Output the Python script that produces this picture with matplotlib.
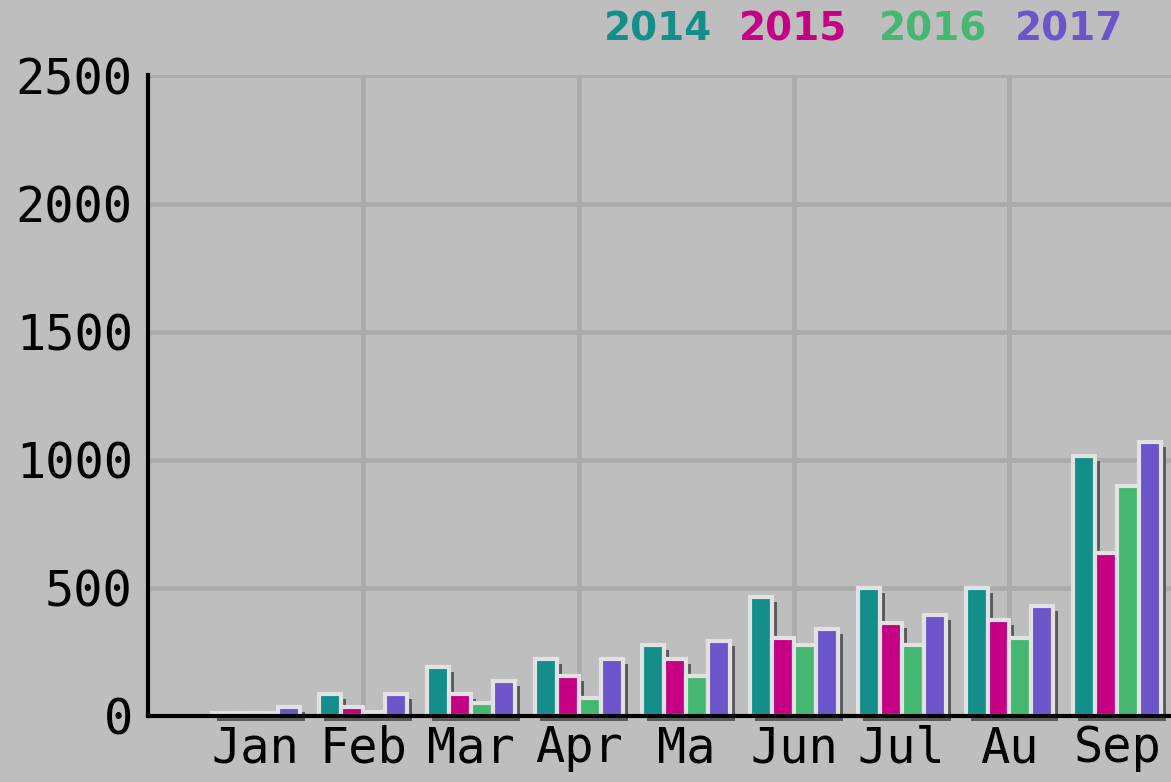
import matplotlib
matplotlib.use('Agg')
import matplotlib.pyplot as plt
import matplotlib.patheffects as pe
import numpy as np

months = ['Jan', 'Feb', 'Mar', 'Apr', 'Ma', 'Jun', 'Jul', 'Au', 'Sep']
years = ['2014', '2015', '2016', '2017']
v2014 = [12, 85, 190, 220, 275, 465, 500, 500, 1015]
v2015 = [12, 35, 85, 155, 220, 305, 360, 375, 635]
v2016 = [12, 15, 50, 70, 155, 275, 275, 305, 895]
v2017 = [35, 85, 135, 220, 290, 340, 395, 430, 1070]
colors = ['#138e8b', '#c60084', '#44b771', '#6c54cb']

bg = '#bebebe'
fig = plt.figure(figsize=(11.71, 7.82), dpi=100, facecolor=bg)
ax = fig.add_axes([0.1264, 0.0848, 0.8736, 0.8187], facecolor=bg)

x = np.arange(len(months))
w = 0.204
shadow = [pe.SimplePatchShadow(offset=(3.6, -3.6), shadow_rgbFace='#5a5a5a', alpha=1.0), pe.Normal()]
for i, vals in enumerate([v2014, v2015, v2016, v2017]):
    bars = ax.bar(x + (i - 1.5) * w, vals, w, color=colors[i], edgecolor='#e2e2e2',
                  linewidth=3, zorder=1)
    for b in bars:
        b.set_clip_on(False)
        b.set_path_effects(shadow)

ax.set_xlim(-1, 8.5)
ax.set_ylim(0, 2500)
ax.set_yticks(range(0, 2501, 500))
ax.set_xticks(x)
ax.set_xticklabels(months)
# vertical grid lines sit on every other month
ax.xaxis.remove_overlapping_locs = False
ax.set_xticks([1, 3, 5, 7], minor=True)
ax.set_axisbelow(True)
ax.grid(axis='y', color='#ababab', linewidth=3.5)
ax.xaxis.grid(True, which='minor', color='#ababab', linewidth=3.5)
ax.tick_params(which='both', length=0)
ax.tick_params(axis='y', pad=11, labelsize=35)
ax.tick_params(axis='x', pad=6, labelsize=35)
for lab in ax.get_xticklabels() + ax.get_yticklabels():
    lab.set_family('DejaVu Sans Mono')

for s in ['top', 'right']:
    ax.spines[s].set_visible(False)
for s in ['left', 'bottom']:
    ax.spines[s].set_linewidth(3)
    ax.spines[s].set_color('black')
    ax.spines[s].set_zorder(3)

# legend as coloured year labels along the top
xs = [0.562, 0.677, 0.797, 0.913]
for yr, c, xp in zip(years, colors, xs):
    fig.text(xp, 0.962, yr, color=c, ha='center', va='center', fontsize=28,
             fontweight='bold', family='DejaVu Sans')

fig.savefig('out.png', dpi=100, facecolor=bg)
